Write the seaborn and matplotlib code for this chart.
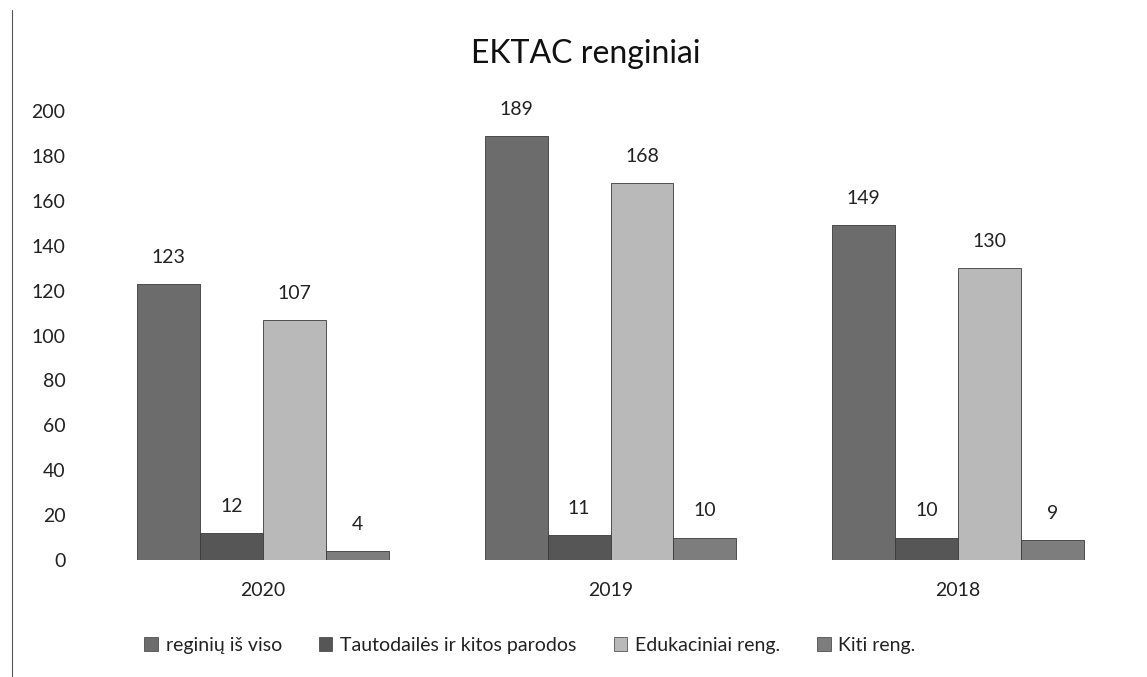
import pandas as pd
import matplotlib
matplotlib.use("Agg")
import matplotlib.pyplot as plt
import matplotlib.lines as mlines
import seaborn as sns

# data
years = ["2020", "2019", "2018"]
series = ["reginių iš viso", "Tautodailės ir kitos parodos", "Edukaciniai reng.", "Kiti reng."]
reginiu_is_viso = [123, 189, 149]
tautodailes = [12, 11, 10]
edukaciniai = [107, 168, 130]
kiti = [4, 10, 9]

colors = ["#6c6c6c", "#565656", "#b9b9b9", "#7d7d7d"]

rows = []
for s, vals in zip(series, [reginiu_is_viso, tautodailes, edukaciniai, kiti]):
    for y, v in zip(years, vals):
        rows.append({"Metai": y, "Tipas": s, "Kiekis": v})
df = pd.DataFrame(rows)

sns.set_style("white")
plt.rcParams["font.family"] = ["Lato", "DejaVu Sans"]

fig = plt.figure(figsize=(11.47, 6.77), dpi=100)
ax = fig.add_axes([89 / 1147, 1 - 560 / 677, 1043 / 1147, 460 / 677])

sns.barplot(data=df, x="Metai", y="Kiekis", hue="Tipas", order=years, hue_order=series,
            palette=colors, saturation=1, width=0.724, edgecolor="#3a3a3a", linewidth=0.6, ax=ax)

for c in ax.containers:
    ax.bar_label(c, fmt="%d", padding=13, fontsize=14, color="#222222")

ax.set_xlim(-0.5, 2.5)
ax.set_ylim(0, 204.9)
ax.set_yticks(range(0, 201, 20))
ax.set_xlabel("")
ax.set_ylabel("")
ax.tick_params(axis="both", length=0, labelsize=14, labelcolor="#222222")
ax.tick_params(axis="y", pad=17)
ax.tick_params(axis="x", pad=16)
sns.despine(ax=ax, left=True, bottom=True)

ax.get_legend().remove()
handles = [plt.Rectangle((0, 0), 1, 1, fc=col, ec="#3a3a3a", lw=0.5) for col in colors]
fig.legend(handles, series, loc="center", bbox_to_anchor=(530 / 1147, 1 - 645 / 677), ncol=4,
           frameon=False, fontsize=14, handlelength=0.7, handleheight=0.7, handletextpad=0.4,
           columnspacing=1.9, labelcolor="#222222")

fig.text(586 / 1147, 1 - 54 / 677, "EKTAC renginiai", ha="center", va="center", fontsize=23, color="#111111")

# scan border on the left
fig.add_artist(mlines.Line2D([12 / 1147, 12 / 1147], [0, 1 - 10 / 677], color="#555555", lw=0.8))

fig.savefig("out.png", dpi=100)
